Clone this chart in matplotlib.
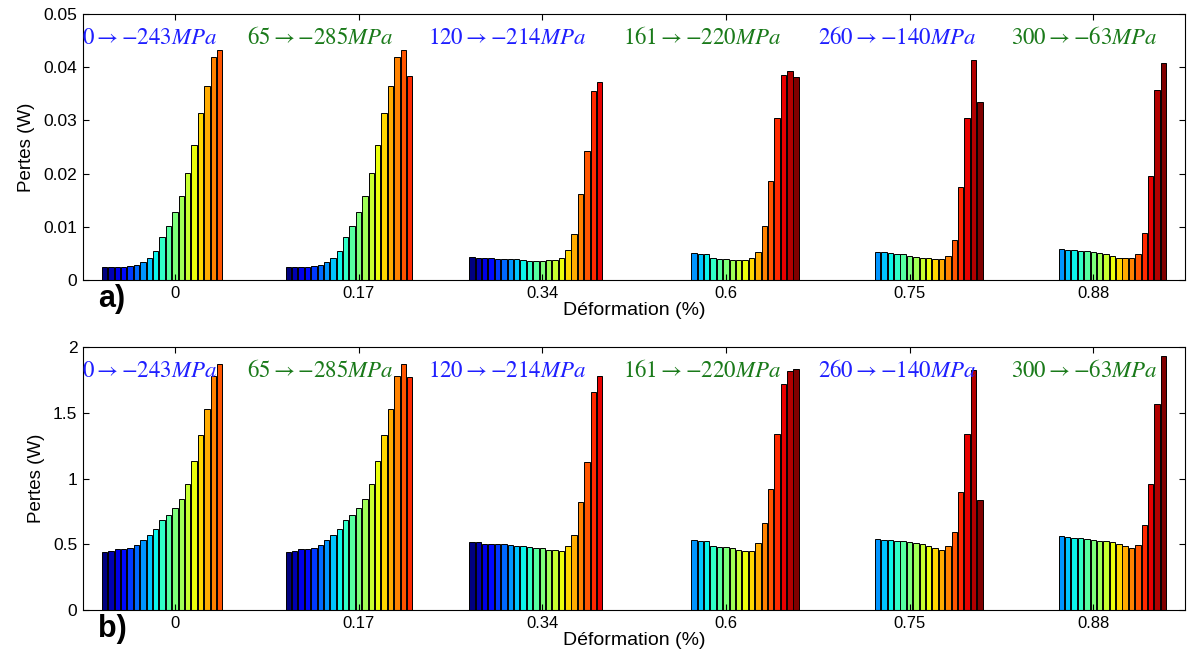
import numpy as np
import matplotlib.pyplot as plt

plt.rcParams['font.family'] = ['Liberation Sans', 'DejaVu Sans']
plt.rcParams['mathtext.fontset'] = 'stix'

deformation = ['0', '0.17', '0.34', '0.6', '0.75', '0.88']
contraintes = [r'$0 \rightarrow {-}243MPa$', r'$65 \rightarrow {-}285MPa$',
               r'$120 \rightarrow {-}214MPa$', r'$161 \rightarrow {-}220MPa$',
               r'$260 \rightarrow {-}140MPa$', r'$300 \rightarrow {-}63MPa$']
n_series = 23
first_slot = [0, 0, 0, 6, 6, 6]

# pertes (W), panel a
pertes_a = [
    [0.0024, 0.0024, 0.0024, 0.0024, 0.0026, 0.0028, 0.0034, 0.0042, 0.0055, 0.0081,
     0.0102, 0.0128, 0.0158, 0.0202, 0.0254, 0.0314, 0.0365, 0.0420, 0.0433],
    [0.0024, 0.0024, 0.0024, 0.0024, 0.0026, 0.0028, 0.0034, 0.0042, 0.0055, 0.0081,
     0.0102, 0.0128, 0.0158, 0.0202, 0.0254, 0.0314, 0.0365, 0.0420, 0.0433, 0.0383],
    [0.0044, 0.0042, 0.0042, 0.0042, 0.0039, 0.0039, 0.0039, 0.0039, 0.0038, 0.0036,
     0.0036, 0.0036, 0.0038, 0.0038, 0.0042, 0.0056, 0.0086, 0.0161, 0.0243, 0.0355, 0.0373],
    [0.0050, 0.0048, 0.0048, 0.0041, 0.0039, 0.0039, 0.0038, 0.0038, 0.0038, 0.0041,
     0.0052, 0.0101, 0.0186, 0.0305, 0.0386, 0.0392, 0.0382],
    [0.0053, 0.0052, 0.0051, 0.0048, 0.0049, 0.0046, 0.0044, 0.0042, 0.0041, 0.0039,
     0.0039, 0.0046, 0.0076, 0.0174, 0.0305, 0.0414, 0.0334],
    [0.0059, 0.0056, 0.0056, 0.0054, 0.0054, 0.0052, 0.0051, 0.0049, 0.0046, 0.0042,
     0.0041, 0.0041, 0.0048, 0.0088, 0.0196, 0.0358, 0.0407],
]

# pertes (W), panel b
pertes_b = [
    [0.439, 0.447, 0.464, 0.464, 0.470, 0.495, 0.530, 0.574, 0.614, 0.683,
     0.721, 0.774, 0.843, 0.959, 1.132, 1.332, 1.530, 1.779, 1.871],
    [0.439, 0.447, 0.464, 0.464, 0.470, 0.495, 0.530, 0.574, 0.614, 0.683,
     0.721, 0.774, 0.843, 0.959, 1.132, 1.332, 1.530, 1.779, 1.871, 1.774],
    [0.518, 0.518, 0.505, 0.505, 0.505, 0.505, 0.497, 0.490, 0.485, 0.477,
     0.472, 0.472, 0.459, 0.454, 0.447, 0.490, 0.569, 0.820, 1.127, 1.660, 1.779],
    [0.536, 0.528, 0.523, 0.490, 0.482, 0.477, 0.470, 0.459, 0.452, 0.452,
     0.510, 0.665, 0.919, 1.338, 1.718, 1.820, 1.832],
    [0.541, 0.536, 0.536, 0.523, 0.528, 0.515, 0.510, 0.503, 0.485, 0.470,
     0.457, 0.485, 0.594, 0.896, 1.338, 1.825, 0.838],
    [0.561, 0.556, 0.551, 0.551, 0.543, 0.536, 0.528, 0.528, 0.515, 0.503,
     0.485, 0.470, 0.495, 0.645, 0.959, 1.569, 1.929],
]

label_colors = ['#1f1fff', '#1a7a1a'] * 3
label_dx = [-0.14, -0.21, -0.19, -0.13, -0.07, -0.05]


def to_matrix(groups):
    m = np.zeros((len(groups), n_series))
    for g, vals in enumerate(groups):
        m[g, first_slot[g]:first_slot[g] + len(vals)] = vals
    return m


def draw(ax, groups, ymax, yticks, ylabels, tag):
    m = to_matrix(groups)
    x = np.arange(1, len(deformation) + 1)
    gw = 0.8
    w = gw / n_series
    cols = plt.cm.jet(np.linspace(0, 1, n_series))
    for i in range(n_series):
        ax.bar(x - gw / 2 + (i + 0.5) * w, m[:, i], width=w * 0.85,
               color=cols[i], edgecolor='black', linewidth=0.7)
    ax.set_xlim(0.5, 6.5)
    ax.set_ylim(0, ymax)
    ax.set_xticks(x)
    ax.set_xticklabels(deformation, fontsize=12)
    ax.set_yticks(yticks)
    ax.set_yticklabels(ylabels, fontsize=12.5)
    ax.tick_params(direction='in', top=True, right=True, length=4, pad=4)
    ax.set_ylabel('Pertes (W)', fontsize=13.5, labelpad=6)
    ax.set_xlabel('Déformation (%)', fontsize=14, labelpad=1)
    for k in range(len(deformation)):
        ax.text(x[k] + label_dx[k], ymax * 0.91, contraintes[k], color=label_colors[k],
                fontsize=16.5, ha='center', va='center')
    ax.text(0.014, -0.072, tag, transform=ax.transAxes, fontsize=22,
            fontweight='bold', ha='left', va='center')


fig = plt.figure(figsize=(11.95, 6.56), dpi=100)
ax1 = fig.add_axes([0.0695, 0.5732, 0.9222, 0.4055])
ax2 = fig.add_axes([0.0695, 0.0701, 0.9222, 0.4009])

draw(ax1, pertes_a, 0.05, [0, 0.01, 0.02, 0.03, 0.04, 0.05],
     ['0', '0.01', '0.02', '0.03', '0.04', '0.05'], 'a)')
draw(ax2, pertes_b, 2, [0, 0.5, 1, 1.5, 2], ['0', '0.5', '1', '1.5', '2'], 'b)')

fig.savefig('out.png', dpi=100)
